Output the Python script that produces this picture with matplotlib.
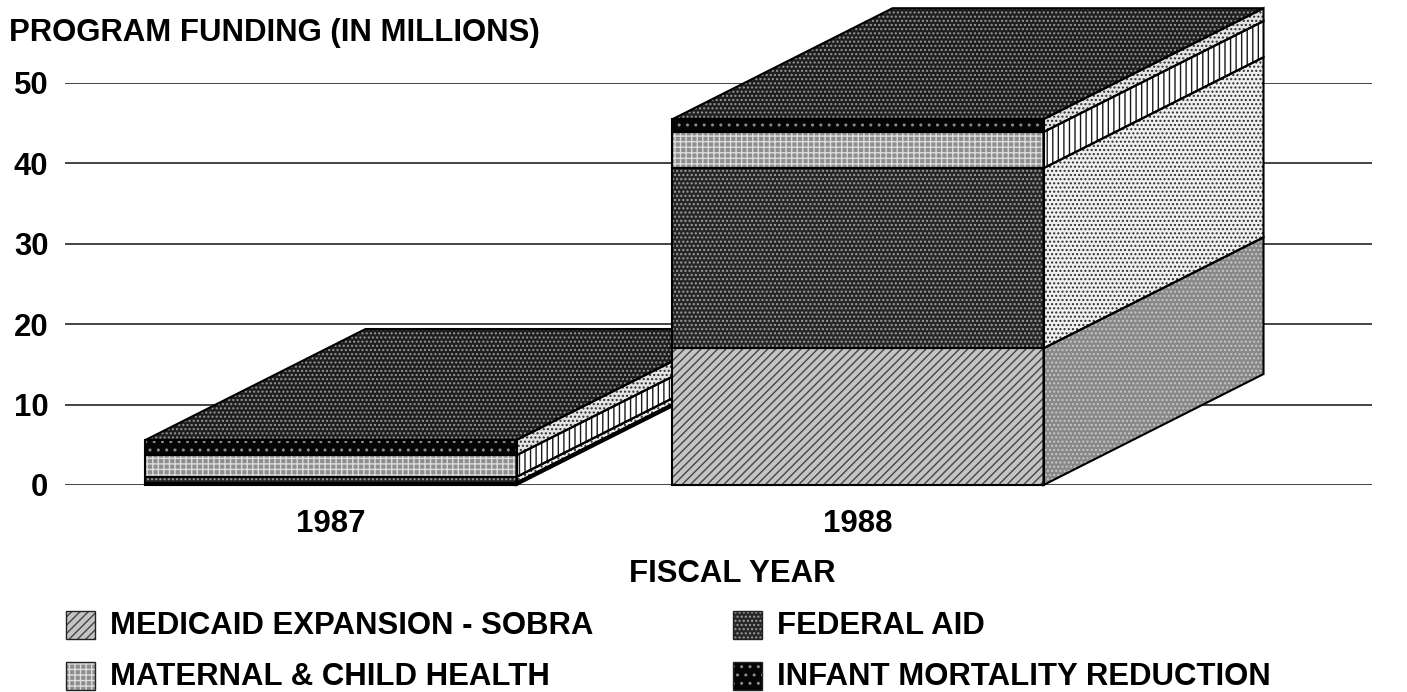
import matplotlib
matplotlib.use("Agg")
import matplotlib.pyplot as plt
from matplotlib.patches import Polygon, Rectangle

plt.rcParams['font.family'] = ['Liberation Sans', 'DejaVu Sans']
plt.rcParams['hatch.linewidth'] = 1.0

# data (millions)
years = ['1987', '1988']
medicaid = [0.3, 17.0]
federal = [0.7, 22.4]
maternal = [2.7, 4.5]
infant = [1.9, 1.6]
series = [medicaid, federal, maternal, infant]
series_names = ['MEDICAID EXPANSION - SOBRA', 'FEDERAL AID',
                'MATERNAL & CHILD HEALTH', 'INFANT MORTALITY REDUCTION']
yticks = [0, 10, 20, 30, 40, 50]

# face, hatch colour, hatch for front and side of each layer
front_style = [('#c4c4c4', '#444444', '////'),
               ('#262626', '#a0a0a0', '....'),
               ('#8e8e8e', '#dcdcdc', '+++'),
               ('#050505', '#8a8a8a', '..')]
side_style = [('#888888', '#c8c8c8', '....'),
              ('#f0f0f0', '#2c2c2c', '....'),
              ('#ffffff', '#1a1a1a', '|||'),
              ('#e4e4e4', '#2c2c2c', '....')]
top_style = ('#1e1e1e', '#989898', '....')

bar_w = 0.704
depth_x = 0.4175
depth_y = 13.8
font_size = 22.4

W, H = 1407, 692
fig = plt.figure(figsize=(W / 100, H / 100), dpi=100)
# axes box: x 65..1372 px, value 0 at y=485, value 50 at y=83
ax = fig.add_axes([65 / W, 1 - 485 / H, 1307 / W, 402 / H])
ax.set_ylim(0, 50)
ax.set_xlim((65 - 331) / 527, (1372 - 331) / 527)
for s in ax.spines.values():
    s.set_visible(False)
ax.set_yticks(yticks)
ax.set_xticks([0, 1])
ax.set_xticklabels(years, fontsize=font_size, fontweight='bold')
ax.tick_params(axis='both', length=0)
ax.tick_params(axis='x', pad=17)
ax.tick_params(axis='y', pad=12)
for lab in ax.get_yticklabels():
    lab.set_fontsize(font_size)
    lab.set_fontweight('bold')
ax.grid(axis='y', color='#111111', lw=1.1, zorder=1)
ax.set_axisbelow(True)


def face(pts, style, z):
    ax.add_patch(Polygon(pts, closed=True, facecolor=style[0], edgecolor=style[1],
                         hatch=style[2], lw=0, zorder=z, clip_on=False))
    ax.add_patch(Polygon(pts, closed=True, fill=False, edgecolor='black',
                         lw=1.5, zorder=z + 0.1, clip_on=False))


for i in range(len(years)):
    x0 = i - bar_w / 2
    x1 = i + bar_w / 2
    base = 0
    z = 3 + i * 3
    for k, vals in enumerate(series):
        top = base + vals[i]
        face([(x0, base), (x1, base), (x1, top), (x0, top)], front_style[k], z)
        face([(x1, base), (x1 + depth_x, base + depth_y),
              (x1 + depth_x, top + depth_y), (x1, top)], side_style[k], z)
        base = top
    face([(x0, base), (x1, base), (x1 + depth_x, base + depth_y),
          (x0 + depth_x, base + depth_y)], top_style, z)

fig.text(9 / W, 1 - 33 / H, 'PROGRAM FUNDING (IN MILLIONS)', fontsize=font_size,
         fontweight='bold', va='center', ha='left')
fig.text(732 / W, 1 - 574 / H, 'FISCAL YEAR', fontsize=font_size,
         fontweight='bold', va='center', ha='center')

# legend
leg_x = [66, 733]
leg_y = [624.5, 676]
for k in range(4):
    col = k % 2
    row = k // 2
    st = front_style[k]
    corner = (leg_x[col] / W, 1 - (leg_y[row] + 14) / H)
    fig.add_artist(Rectangle(corner, 29 / W, 28 / H, transform=fig.transFigure,
                             facecolor=st[0], edgecolor=st[1], hatch=st[2], lw=0))
    fig.add_artist(Rectangle(corner, 29 / W, 28 / H, transform=fig.transFigure,
                             fill=False, edgecolor='#222222', lw=1.0))
    fig.text((leg_x[col] + 44) / W, 1 - (leg_y[row] + 1) / H, series_names[k], fontsize=font_size,
             fontweight='bold', va='center', ha='left')

fig.savefig('out.png', dpi=100)
